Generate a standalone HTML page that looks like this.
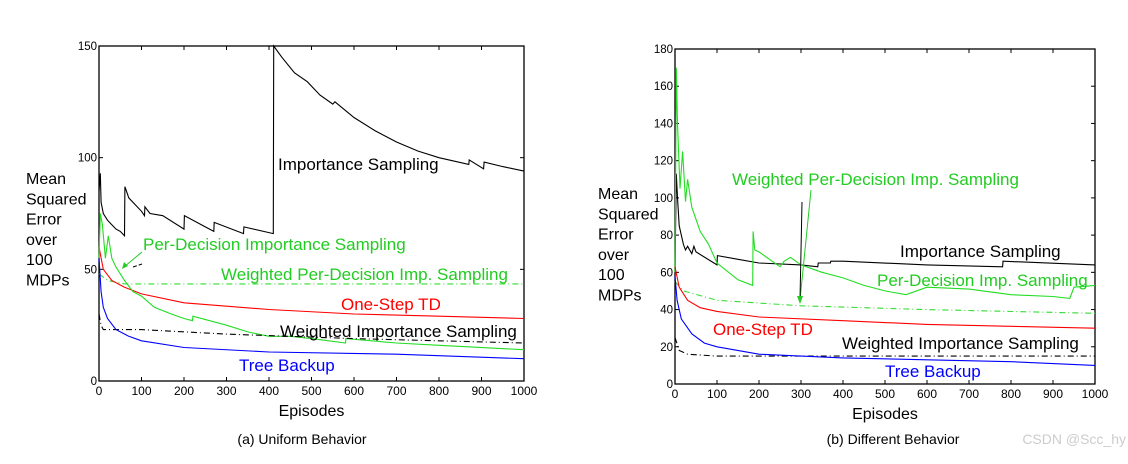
<!DOCTYPE html>
<html><head><meta charset="utf-8"><style>
body{margin:0;background:#fff;}
svg{display:block;font-family:"Liberation Sans",sans-serif;}
</style></head><body>
<svg id="fig" width="1128" height="464" viewBox="0 0 1128 464">
<rect width="1128" height="464" fill="#fff"/>
</svg>
<script>
// ---- data: panel (a) Uniform Behavior ----
const aEpisodesIS=[0,3,5,10,20,30,40,50,60,61,70,100,107,108,120,150,200,201,250,270,271,340,341,410,411,430,460,490,520,550,555,600,650,700,750,800,870,871,905,906,950,1000];
const aValuesIS=[85,93,80,75,72,70,68,67,65,87,82,76,74,78,75,74,68,74,69,67,71,66,69,66,150,145,138,134,128,124,125,118,112,107,103,100,97,99,95,98,96,94];
const aEpisodesPD=[0,3,8,15,22,30,40,50,60,80,100,130,170,200,220,221,300,350,400,450,500,580,581,700,800,1000];
const aValuesPD=[55,75,70,55,65,55,51,48,45,40,38,33,30,28,27,29,25,22,20,20,19,17,19,17,16,14];
const aEpisodesWPD=[0,20,60,1000];
const aValuesWPD=[48,45,43.5,43.5];
const aEpisodesTD=[0,10,30,60,100,200,400,600,800,1000];
const aValuesTD=[60,50,45,42,39,35,32,30,29,28];
const aEpisodesWIS=[0,5,10,30,100,300,600,1000];
const aValuesWIS=[30,25,23,23,23,21,19,17];
const aEpisodesTB=[0,5,10,20,40,70,100,200,400,700,1000];
const aValuesTB=[55,40,33,28,23,20,18,15,13,12,10];
const aYTicks=[0,50,100,150];
// ---- data: panel (b) Different Behavior ----
const bEpisodesIS=[0,3,6,10,20,25,30,40,45,50,100,101,150,200,300,340,341,370,371,400,600,780,781,1000];
const bValuesIS=[60,113,100,85,75,72,74,70,74,71,64,69,67,65,64,63,65,65,66,66,64,63,66,64];
const bEpisodesPD=[0,3,6,12,18,25,30,40,60,80,100,150,185,186,190,200,250,260,275,300,350,400,450,500,550,600,700,800,900,940,950,1000];
const bValuesPD=[60,170,140,105,125,98,110,95,82,75,65,56,53,82,72,71,63,66,68,64,60,57,53,50,48,52,51,48,47,46,52,53];
const bEpisodesWPD=[0,20,100,300,600,1000];
const bValuesWPD=[55,50,45,42,40,38];
const bEpisodesTD=[0,10,30,60,100,200,400,600,800,1000];
const bValuesTD=[63,52,45,41,39,36,34,32,31,30];
const bEpisodesWIS=[0,10,30,100,1000];
const bValuesWIS=[25,18,16,15,15];
const bEpisodesTB=[0,5,15,40,70,100,200,400,600,800,1000];
const bValuesTB=[58,45,35,27,22,20,16,14,13,12,10];
const bYTicks=[0,20,40,60,80,100,120,140,160,180];
const xTicks=[0,100,200,300,400,500,600,700,800,900,1000];

const NS="http://www.w3.org/2000/svg";
const svg=document.getElementById('fig');
function mk(tag,attrs,parent,text){const e=document.createElementNS(NS,tag);for(const k in attrs)e.setAttribute(k,attrs[k]);if(text!==undefined)e.textContent=text;(parent||svg).appendChild(e);return e;}

function panel(id,p,yMax,yTicks,series,labels,caption,capX){
  const g=mk('g',{});
  
  
  const X=v=>p.x0+(p.x1-p.x0)*v/1000;
  const Y=v=>p.y0-(p.y0-p.y1)*v/yMax;
  const fr=mk('rect',{x:p.x0,y:p.y1,width:p.x1-p.x0,height:p.y0-p.y1,fill:'none',stroke:'#000','stroke-width':1.3},g);
  
  
  xTicks.forEach(t=>{
    mk('line',{x1:X(t),x2:X(t),y1:p.y0,y2:p.y0-4,stroke:'#000'},g);
    mk('line',{x1:X(t),x2:X(t),y1:p.y1,y2:p.y1+4,stroke:'#000'},g);
    const tl=mk('text',{x:X(t),y:p.y0+14,'font-size':12,'text-anchor':'middle'},g,String(t));
    
    
  });
  yTicks.forEach(t=>{
    mk('line',{x1:p.x0,x2:p.x0+4,y1:Y(t),y2:Y(t),stroke:'#000'},g);
    mk('line',{x1:p.x1,x2:p.x1-4,y1:Y(t),y2:Y(t),stroke:'#000'},g);
    const tl=mk('text',{x:p.x0-2,y:Y(t)+4,'font-size':11.5,'text-anchor':'end'},g,String(t));
    
    
  });
  series.forEach(s=>{
    const d=s.xs.map((x,i)=>(i?'L':'M')+X(x).toFixed(1)+','+Y(s.ys[i]).toFixed(1)).join('');
    const attrs={d:d,fill:'none',stroke:s.c,'stroke-width':1.1};
    if(s.dash)attrs['stroke-dasharray']=s.dash;
    const path=mk('path',attrs,g);
    
    
  });
  labels.forEach(l=>{
    const t=mk('text',{x:l.x,y:l.y,'font-size':17,fill:l.c},g,l.t);
    
    
  });
  const xt=mk('text',{x:(p.x0+p.x1)/2,y:p.y0+35,'font-size':16,'text-anchor':'middle'},g,'Episodes');
  
  
  const ct=mk('text',{x:capX,y:444,'font-size':14,'text-anchor':'middle'},g,caption);
  
  
  return {X,Y,g};
}

const A=panel('panel-uniform',{x0:99,x1:524,y0:381,y1:46},150,aYTicks,[
 {name:'importance-sampling-line',xs:aEpisodesIS,ys:aValuesIS,c:'#000'},
 {name:'weighted-per-decision-line',xs:aEpisodesWPD,ys:aValuesWPD,c:'#33dd33',dash:'6,3,1,3'},
 {name:'one-step-td-line',xs:aEpisodesTD,ys:aValuesTD,c:'#ff0000'},
 {name:'per-decision-line',xs:aEpisodesPD,ys:aValuesPD,c:'#22dd22'},
 {name:'weighted-importance-line',xs:aEpisodesWIS,ys:aValuesWIS,c:'#000',dash:'6,3,1,3'},
 {name:'tree-backup-line',xs:aEpisodesTB,ys:aValuesTB,c:'#0000ff'}
],[
 {name:'label-importance-sampling',t:'Importance Sampling',x:278,y:170,c:'#000'},
 {name:'label-per-decision',t:'Per-Decision Importance Sampling',x:143,y:250,c:'#22cc22'},
 {name:'label-weighted-per-decision',t:'Weighted Per-Decision Imp. Sampling',x:221,y:280,c:'#22cc22'},
 {name:'label-one-step-td',t:'One-Step TD',x:341,y:310,c:'#ff0000'},
 {name:'label-weighted-importance',t:'Weighted Importance Sampling',x:280,y:337,c:'#000'},
 {name:'label-tree-backup',t:'Tree Backup',x:239,y:371,c:'#0000ff'}
],'(a) Uniform Behavior',302);
mk('line',{x1:142,y1:252,x2:124,y2:267,stroke:'#22cc22'},A.g);
mk('path',{d:'M122,269 l2,-7 l4,4z',fill:'#22cc22'},A.g);
mk('line',{x1:133,y1:267,x2:142,y2:264,stroke:'#000','stroke-dasharray':'4,2'},A.g);

const B=panel('panel-different',{x0:675,x1:1095,y0:384,y1:49},180,bYTicks,[
 {name:'importance-sampling-line',xs:bEpisodesIS,ys:bValuesIS,c:'#000'},
 {name:'per-decision-line',xs:bEpisodesPD,ys:bValuesPD,c:'#22dd22'},
 {name:'weighted-per-decision-line',xs:bEpisodesWPD,ys:bValuesWPD,c:'#33dd33',dash:'6,3,1,3'},
 {name:'one-step-td-line',xs:bEpisodesTD,ys:bValuesTD,c:'#ff0000'},
 {name:'weighted-importance-line',xs:bEpisodesWIS,ys:bValuesWIS,c:'#000',dash:'6,3,1,3'},
 {name:'tree-backup-line',xs:bEpisodesTB,ys:bValuesTB,c:'#0000ff'}
],[
 {name:'label-weighted-per-decision',t:'Weighted Per-Decision Imp. Sampling',x:732,y:185,c:'#22cc22'},
 {name:'label-importance-sampling',t:'Importance Sampling',x:900,y:257,c:'#000'},
 {name:'label-per-decision',t:'Per-Decision Imp. Sampling',x:877,y:286,c:'#22cc22'},
 {name:'label-one-step-td',t:'One-Step TD',x:713,y:335,c:'#ff0000'},
 {name:'label-weighted-importance',t:'Weighted Importance Sampling',x:842,y:349,c:'#000'},
 {name:'label-tree-backup',t:'Tree Backup',x:885,y:377,c:'#0000ff'}
],'(b) Different Behavior',893);
mk('line',{x1:811,y1:190,x2:800,y2:300,stroke:'#22cc22'},B.g);
mk('line',{x1:802,y1:202,x2:800,y2:300,stroke:'#000'},B.g);
mk('path',{d:'M800,304 l-3,-8 l6,0z',fill:'#22cc22'},B.g);

// y-axis titles
[[26,184],[598,199]].forEach(([x,y0])=>{
  const t=mk('text',{x:x,y:y0,'font-size':16});
  
  
  ['Mean','Squared','Error','over','100','MDPs'].forEach((w,i)=>mk('tspan',{x:x,y:y0+i*20.3},t,w));
});
const wm=mk('text',{x:1126,y:444,'font-size':14,'text-anchor':'end',fill:'#ccc'},svg,'CSDN @Scc_hy');


</script>
</body></html>
